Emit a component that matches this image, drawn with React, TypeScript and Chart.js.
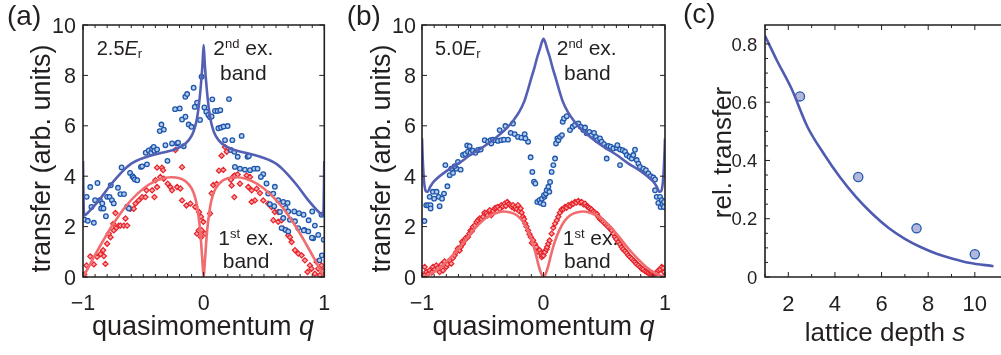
import React, { useEffect, useRef } from 'react';
import { Chart, registerables } from 'chart.js';

Chart.register(...registerables);

const FONT = '"Liberation Sans", Arial, Helvetica, sans-serif';
const INK = '#231f20';

// ---------------- tick labels ----------------
const qTicks = [-1, 0, 1];
const qTickLabels = ['\u22121', '0', '1'];
const transferTicks = [0, 2, 4, 6, 8, 10];
const transferTickLabels = ['0', '2', '4', '6', '8', '10'];
const depthTicks = [2, 4, 6, 8, 10];
const depthTickLabels = ['2', '4', '6', '8', '10'];
const relTicks = [0, 0.2, 0.4, 0.6, 0.8];
const relTickLabels = ['0', '0.2', '0.4', '0.6', '0.8'];

// ---------------- panel (a): 2.5 Er ----------------
const aCurveQ = [-1, -0.997, -0.993, -0.985, -0.96, -0.92, -0.85, -0.78, -0.7, -0.65, -0.6, -0.5, -0.37, -0.3, -0.23, -0.15, -0.1, -0.075, -0.055, -0.04, -0.025, -0.01, 0, 0.01, 0.025, 0.04, 0.055, 0.075, 0.1, 0.15, 0.23, 0.3, 0.37, 0.5, 0.6, 0.65, 0.7, 0.78, 0.85, 0.92, 0.96, 0.985, 0.993, 0.997, 1];
const aSecondBandTheory = [4.6, 3.5, 2.6, 2.45, 2.55, 2.75, 3.15, 3.6, 4.05, 4.3, 4.5, 4.72, 4.9, 4.98, 5.08, 5.3, 5.6, 5.9, 6.3, 6.8, 7.5, 8.4, 9.2, 8.4, 7.5, 6.8, 6.3, 5.9, 5.6, 5.3, 5.08, 4.98, 4.9, 4.72, 4.5, 4.3, 4.05, 3.6, 3.15, 2.75, 2.55, 2.45, 2.6, 3.5, 4.6];
const aRedCurveQ = [-1, -0.97, -0.92, -0.85, -0.75, -0.65, -0.55, -0.45, -0.35, -0.27, -0.2, -0.15, -0.1, -0.08, -0.06, -0.045, -0.03, -0.02, -0.01, 0, 0.01, 0.02, 0.03, 0.045, 0.06, 0.08, 0.1, 0.15, 0.2, 0.27, 0.35, 0.45, 0.55, 0.65, 0.75, 0.85, 0.92, 0.97, 1];
const aFirstBandTheory = [0.05, 0.25, 0.7, 1.3, 2.1, 2.78, 3.3, 3.68, 3.9, 3.96, 3.92, 3.8, 3.52, 3.3, 2.95, 2.5, 1.9, 1.3, 0.6, 0, 0.6, 1.3, 1.9, 2.5, 2.95, 3.3, 3.52, 3.8, 3.92, 3.96, 3.9, 3.68, 3.3, 2.78, 2.1, 1.3, 0.7, 0.25, 0.05];

const aSecondBandData: [number, number][] = [
  [-0.99, 2.28], [-0.97, 3.18], [-0.96, 2.23], [-0.94, 3.57], [-0.93, 2.78], [-0.91, 2.15], [-0.9, 3.05], [-0.88, 3.73], [-0.86, 3.05], [-0.85, 2.72], [-0.84, 2.92], [-0.83, 2.72], [-0.81, 2.41], [-0.8, 3.18], [-0.78, 3.18], [-0.77, 3.64], [-0.76, 3.05], [-0.745, 2.92], [-0.71, 3.54], [-0.69, 3.29], [-0.68, 4.35], [-0.66, 3.29], [-0.634, 2.79], [-0.62, 2.72], [-0.61, 4.13], [-0.59, 4.0], [-0.58, 3.94], [-0.57, 3.87], [-0.55, 3.84], [-0.52, 4.37], [-0.51, 4.39], [-0.48, 4.93], [-0.47, 4.47], [-0.455, 5.02], [-0.435, 4.93], [-0.427, 5.09], [-0.414, 5.16], [-0.408, 5.01], [-0.386, 5.06], [-0.364, 5.79], [-0.35, 6.05], [-0.33, 5.85], [-0.317, 5.23], [-0.3, 4.61], [-0.262, 5.3], [-0.237, 6.66], [-0.22, 5.3], [-0.212, 5.33], [-0.198, 6.69], [-0.179, 6.25], [-0.165, 5.19], [-0.152, 7.15], [-0.151, 6.36], [-0.137, 7.26], [-0.124, 6.05], [-0.101, 5.96], [-0.083, 7.51], [-0.074, 6.75], [-0.055, 6.92], [-0.03, 6.23], [-0.017, 7.95],
  [0.006, 6.73], [0.022, 6.56], [0.039, 6.43], [0.053, 6.34], [0.066, 6.37], [0.072, 7.05], [0.094, 6.59], [0.116, 6.59], [0.138, 6.62], [0.21, 7.06], [0.122, 5.9], [0.144, 5.93], [0.166, 5.97], [0.199, 5.99], [0.177, 5.43], [0.238, 5.43], [0.315, 5.6], [0.226, 5.04], [0.254, 4.97], [0.282, 4.77], [0.364, 4.77], [0.375, 4.8], [0.259, 4.37], [0.301, 4.3], [0.342, 4.26], [0.384, 4.24], [0.419, 4.3], [0.447, 4.3], [0.494, 4.08], [0.474, 3.97], [0.521, 3.71], [0.59, 3.58], [0.535, 3.31], [0.577, 3.31], [0.618, 3.05], [0.66, 2.98], [0.696, 2.94], [0.549, 2.89], [0.585, 2.81], [0.632, 2.58], [0.751, 2.6], [0.79, 2.53], [0.828, 2.47], [0.9, 2.6], [0.922, 2.04], [0.679, 2.74], [0.701, 2.6], [0.66, 2.34], [0.715, 2.27], [0.757, 2.21], [0.646, 1.94], [0.679, 1.87], [0.701, 1.81], [0.784, 1.94], [0.834, 1.87], [0.867, 1.81], [0.977, 2.47], [0.995, 1.48], [0.908, 1.54], [0.95, 1.67], [0.98, 0.86], [0.96, 0.66], [0.87, 2.25], [0.83, 1.85], [0.897, 1.56],
];
const aFirstBandData: [number, number][] = [
  [-0.99, 0.1], [-0.971, 0.46], [-0.91, 0.5], [-0.883, 0.8], [-0.94, 0.82], [-0.827, 0.83], [-0.855, 0.91], [-0.833, 1.06], [-0.814, 0.52], [-0.8, 1.32], [-0.772, 1.58], [-0.786, 1.72], [-0.745, 1.85], [-0.75, 2.11], [-0.723, 1.95], [-0.704, 2.04], [-0.69, 2.04], [-0.662, 2.04], [-0.634, 2.04], [-0.731, 2.54], [-0.648, 2.32], [-0.607, 2.71], [-0.579, 2.71], [-0.565, 2.91], [-0.538, 3.04], [-0.51, 3.17], [-0.482, 3.17], [-0.474, 3.44], [-0.427, 3.44], [-0.408, 3.17], [-0.386, 3.57], [-0.4, 3.84], [-0.359, 3.97], [-0.331, 3.9], [-0.298, 3.7], [-0.386, 4.34], [-0.345, 4.34], [-0.336, 4.24], [-0.276, 3.57], [-0.262, 3.44], [-0.22, 3.57], [-0.193, 3.51], [-0.179, 3.04], [-0.143, 2.84], [-0.11, 2.91], [-0.069, 2.78], [-0.179, 4.36], [-0.234, 5.04], [-0.055, 1.72], [-0.022, 1.58], [-0.041, 1.85], [-0.038, 2.58], [-0.022, 2.39], [-0.003, 2.19], [-0.017, 1.86],
  [0.011, 1.72], [0.053, 2.52], [0.066, 3.32], [0.08, 3.65], [0.108, 3.69], [0.127, 4.22], [0.163, 4.25], [0.149, 4.81], [0.177, 5.16], [0.191, 4.97], [0.226, 3.86], [0.246, 3.99], [0.259, 4.03], [0.282, 4.07], [0.301, 3.7], [0.254, 3.17], [0.232, 3.63], [0.357, 4.03], [0.384, 3.97], [0.37, 3.57], [0.398, 3.44], [0.439, 3.5], [0.467, 3.33], [0.425, 3.04], [0.398, 2.98], [0.494, 3.04], [0.535, 2.91], [0.563, 2.78], [0.59, 2.58], [0.618, 2.58], [0.577, 2.25], [0.618, 2.19], [0.646, 2.25], [0.66, 1.92], [0.687, 1.85], [0.701, 1.65], [0.715, 1.58], [0.729, 1.39], [0.757, 1.06], [0.784, 0.93], [0.812, 0.86], [0.839, 0.66], [0.881, 0.46], [0.894, 0.33], [0.922, 0.13], [0.95, 0.33], [0.977, 0.46], [0.991, 0.24], [0.963, 0.07], [0.936, 0.6], [0.861, 0.2],
];

// ---------------- panel (b): 5.0 Er ----------------
const bCurveQ = [-1, -0.995, -0.985, -0.97, -0.955, -0.93, -0.9, -0.8, -0.7, -0.6, -0.5, -0.4, -0.3, -0.25, -0.2, -0.16, -0.13, -0.1, -0.075, -0.05, -0.03, -0.015, 0, 0.015, 0.03, 0.05, 0.075, 0.1, 0.13, 0.16, 0.2, 0.25, 0.3, 0.4, 0.5, 0.6, 0.7, 0.8, 0.9, 0.93, 0.955, 0.97, 0.985, 0.995, 1];
const bSecondBandTheory = [5.5, 4.8, 3.9, 3.42, 3.38, 3.6, 3.8, 4.2, 4.5, 4.85, 5.15, 5.5, 5.92, 6.2, 6.55, 6.95, 7.4, 7.9, 8.3, 8.75, 9.05, 9.3, 9.45, 9.3, 9.05, 8.75, 8.3, 7.9, 7.4, 6.95, 6.55, 6.2, 5.92, 5.5, 5.15, 4.85, 4.5, 4.2, 3.8, 3.6, 3.38, 3.42, 3.9, 4.8, 5.5];
const bRedCurveQ = [-1, -0.97, -0.92, -0.85, -0.78, -0.7, -0.62, -0.55, -0.47, -0.4, -0.33, -0.28, -0.22, -0.17, -0.13, -0.1, -0.08, -0.06, -0.04, -0.02, 0, 0.02, 0.04, 0.06, 0.08, 0.1, 0.13, 0.17, 0.22, 0.28, 0.33, 0.4, 0.47, 0.55, 0.62, 0.7, 0.78, 0.85, 0.92, 0.97, 1];
const bFirstBandTheory = [0, 0.04, 0.15, 0.38, 0.7, 1.12, 1.6, 2.0, 2.35, 2.52, 2.6, 2.57, 2.45, 2.2, 1.85, 1.5, 1.2, 0.85, 0.45, 0.15, 0, 0.15, 0.45, 0.85, 1.2, 1.5, 1.85, 2.2, 2.45, 2.57, 2.6, 2.52, 2.35, 2.0, 1.6, 1.12, 0.7, 0.38, 0.15, 0.04, 0];

const bSecondBandData: [number, number][] = [
  [-0.98, 2.22], [-0.965, 2.85], [-0.95, 2.85], [-0.93, 2.85], [-0.929, 2.72], [-0.937, 3.18], [-0.91, 3.38], [-0.88, 3.38], [-0.9, 3.11], [-0.862, 3.18], [-0.835, 3.11], [-0.819, 3.31], [-0.855, 2.81], [-0.791, 3.6], [-0.808, 4.44], [-0.772, 4.04], [-0.745, 4.13], [-0.759, 4.3], [-0.717, 4.3], [-0.704, 4.57], [-0.682, 4.26], [-0.731, 4.4], [-0.663, 4.84], [-0.644, 4.88], [-0.622, 4.97], [-0.6, 4.93], [-0.581, 5.01], [-0.561, 4.93], [-0.539, 5.04], [-0.517, 5.06], [-0.628, 5.22], [-0.608, 5.19], [-0.484, 5.43], [-0.457, 5.37], [-0.435, 5.43], [-0.416, 5.45], [-0.397, 5.43], [-0.375, 5.4], [-0.43, 5.3], [-0.348, 5.43], [-0.325, 5.45], [-0.361, 5.83], [-0.314, 5.99], [-0.251, 6.09], [-0.292, 5.45], [-0.27, 5.72], [-0.237, 5.67], [-0.21, 5.56], [-0.182, 5.53], [-0.155, 5.67], [-0.127, 5.37], [-0.149, 5.5], [-0.106, 4.75], [-0.092, 4.17], [-0.078, 3.78], [-0.067, 3.71], [-0.051, 2.98], [-0.034, 3.05], [-0.023, 2.94], [-0.013, 3.11], [0, 2.89],
  [0.008, 3.18], [0.004, 3.25], [0.02, 3.31], [0.026, 3.44], [0.04, 3.58], [0.048, 3.38], [0.054, 3.77], [0.067, 4.17], [0.081, 4.44], [0.095, 4.7], [0.103, 5.3], [0.114, 5.5], [0.122, 5.43], [0.136, 5.56], [0.152, 5.63], [0.158, 6.16], [0.169, 6.29], [0.191, 6.38], [0.218, 5.83], [0.24, 5.96], [0.259, 6.03], [0.287, 6.09], [0.306, 5.96], [0.328, 5.83], [0.342, 5.93], [0.355, 5.7], [0.377, 5.76], [0.396, 5.63], [0.416, 5.72], [0.432, 5.56], [0.443, 5.43], [0.465, 5.5], [0.479, 5.37], [0.498, 5.27], [0.52, 5.17], [0.534, 5.2], [0.553, 5.17], [0.575, 5.1], [0.602, 5.13], [0.608, 5.23], [0.63, 5.06], [0.652, 5.03], [0.671, 4.97], [0.685, 4.84], [0.707, 4.77], [0.726, 4.7], [0.739, 4.84], [0.753, 5.05], [0.767, 4.64], [0.781, 4.5], [0.794, 4.37], [0.822, 4.3], [0.843, 4.24], [0.863, 4.11], [0.882, 4.0], [0.904, 3.95], [0.918, 3.87], [0.52, 4.7], [0.63, 4.44], [0.918, 3.44], [0.932, 3.18], [0.945, 2.94], [0.959, 3.18], [0.964, 2.78], [0.974, 3.05], [0.98, 2.89], [0.991, 2.78], [0.992, 2.98],
];
const bFirstBandData: [number, number][] = [
  [-0.995, 0.02], [-0.98, 0.07], [-0.978, 0.4], [-0.964, 0.2], [-0.95, 0.12], [-0.937, 0.26], [-0.92, 0.18], [-0.91, 0.4], [-0.895, 0.3], [-0.882, 0.46], [-0.87, 0.35], [-0.855, 0.2], [-0.84, 0.5], [-0.827, 0.26], [-0.815, 0.62], [-0.8, 0.4], [-0.79, 0.5], [-0.772, 0.66], [-0.759, 0.53], [-0.745, 0.75], [-0.731, 0.86], [-0.72, 0.98], [-0.704, 1.13], [-0.69, 1.05], [-0.682, 1.19], [-0.67, 1.4], [-0.663, 1.32], [-0.649, 1.46], [-0.64, 1.55], [-0.622, 1.59], [-0.61, 1.72], [-0.6, 1.85], [-0.59, 1.82], [-0.581, 1.99], [-0.565, 2.05], [-0.552, 2.18], [-0.54, 2.25], [-0.525, 2.32], [-0.51, 2.3], [-0.498, 2.39], [-0.485, 2.55], [-0.471, 2.52], [-0.46, 2.45], [-0.443, 2.65], [-0.43, 2.45], [-0.415, 2.62], [-0.402, 2.72], [-0.39, 2.75], [-0.375, 2.78], [-0.36, 2.7], [-0.347, 2.85], [-0.335, 2.8], [-0.32, 2.91], [-0.31, 2.82], [-0.298, 2.98], [-0.285, 2.9], [-0.27, 2.85], [-0.26, 2.78], [-0.251, 2.85], [-0.24, 2.72], [-0.232, 2.78], [-0.22, 2.7], [-0.21, 2.85], [-0.2, 2.62], [-0.188, 2.72], [-0.18, 2.55], [-0.169, 2.39], [-0.16, 2.3], [-0.15, 2.12], [-0.14, 2.0], [-0.127, 1.85], [-0.115, 1.7], [-0.105, 1.59], [-0.095, 1.35], [-0.086, 1.46], [-0.07, 1.3], [-0.059, 1.19], [-0.045, 1.0], [-0.031, 1.06], [-0.02, 0.95], [-0.015, 0.79], [-0.012, 0.86],
  [0, 0.85], [0.008, 0.99], [0.012, 0.99], [0.025, 1.1], [0.03, 1.19], [0.04, 1.32], [0.05, 1.45], [0.067, 1.72], [0.08, 1.95], [0.095, 2.12], [0.11, 2.25], [0.122, 2.39], [0.135, 2.55], [0.15, 2.68], [0.165, 2.7], [0.177, 2.78], [0.19, 2.75], [0.204, 2.85], [0.22, 2.82], [0.232, 2.91], [0.245, 2.9], [0.259, 2.98], [0.27, 2.95], [0.287, 3.02], [0.3, 2.95], [0.314, 2.98], [0.33, 2.88], [0.342, 2.91], [0.355, 2.82], [0.369, 2.78], [0.38, 2.72], [0.396, 2.68], [0.41, 2.6], [0.424, 2.55], [0.44, 2.5], [0.451, 2.39], [0.465, 2.3], [0.479, 2.25], [0.49, 2.2], [0.506, 2.12], [0.52, 2.05], [0.534, 1.99], [0.55, 1.9], [0.561, 1.85], [0.575, 1.72], [0.588, 1.59], [0.6, 1.5], [0.616, 1.39], [0.63, 1.3], [0.643, 1.19], [0.655, 1.1], [0.671, 1.03], [0.685, 0.95], [0.698, 0.86], [0.71, 0.8], [0.726, 0.73], [0.74, 0.65], [0.753, 0.6], [0.765, 0.52], [0.781, 0.46], [0.795, 0.4], [0.808, 0.33], [0.82, 0.3], [0.835, 0.24], [0.85, 0.2], [0.863, 0.16], [0.875, 0.12], [0.89, 0.11], [0.905, 0.1], [0.918, 0.13], [0.93, 0.15], [0.945, 0.26], [0.96, 0.3], [0.973, 0.4], [0.985, 0.35], [0.992, 0.2], [0.998, 0.05],
];

// ---------------- panel (c) ----------------
const depthFit = [1.0, 1.5, 2.14, 2.83, 3.52, 4.21, 4.91, 5.6, 6.29, 6.98, 7.67, 8.36, 9.05, 9.75, 10.8];
const relTransferFit = [0.828, 0.745, 0.646, 0.514, 0.423, 0.343, 0.274, 0.217, 0.169, 0.132, 0.103, 0.08, 0.063, 0.049, 0.037];
const depthData = [2.5, 5, 7.5, 10];
const relTransferData = [0.62, 0.343, 0.167, 0.078];

// ---------------- helpers ----------------
const xy = (xs: number[], ys: number[]) => xs.map((x, i) => ({ x, y: ys[i] }));
const pairs = (p: [number, number][]) => p.map(([x, y]) => ({ x, y }));

interface Run { t: string; size: number; italic?: boolean; dy?: number }
interface TextItem { x: number; y: number; runs: Run[]; align?: 'left' | 'center'; rotate?: boolean }

const fontOf = (r: Run) => `${r.italic ? 'italic ' : ''}${r.size}px ${FONT}`;

function drawItem(ctx: CanvasRenderingContext2D, it: TextItem) {
  ctx.save();
  ctx.fillStyle = INK;
  ctx.textBaseline = 'alphabetic';
  ctx.textAlign = 'left';
  let ox = it.x, oy = it.y;
  if (it.rotate) {
    ctx.translate(it.x, it.y);
    ctx.rotate(-Math.PI / 2);
    ox = 0; oy = 0;
  }
  let total = 0;
  for (const r of it.runs) { ctx.font = fontOf(r); total += ctx.measureText(r.t).width; }
  let cx = it.align === 'center' ? ox - total / 2 : ox;
  for (const r of it.runs) {
    ctx.font = fontOf(r);
    ctx.fillText(r.t, cx, oy + (r.dy || 0));
    cx += ctx.measureText(r.t).width;
  }
  ctx.restore();
}

const textPlugin = (items: TextItem[]) => ({
  id: 'texts',
  afterDraw(chart: any) { for (const it of items) drawItem(chart.ctx, it); },
});

interface FrameCfg {
  xMajor: number[]; xLabels: string[]; xMinor: number[];
  yMajor: number[]; yLabels: string[]; yMinor: number[];
  labelGap: number; xTickSize: number; yTickSize: number; xLabelDrop: number; openRight?: boolean;
}

const framePlugin = (cfg: FrameCfg) => ({
  id: 'frame',
  afterDatasetsDraw(chart: any) {
    const { ctx, chartArea: a, scales } = chart;
    const xs = scales.x, ys = scales.y;
    ctx.save();
    ctx.strokeStyle = INK;
    ctx.lineWidth = 1;
    ctx.beginPath();
    const seg = (x1: number, y1: number, x2: number, y2: number) => { ctx.moveTo(x1, y1); ctx.lineTo(x2, y2); };
    const xt = (vals: number[], len: number) => {
      for (const v of vals) {
        const px = xs.getPixelForValue(v);
        if (px < a.left - 0.5 || px > a.right + 0.5) continue;
        seg(px, a.bottom, px, a.bottom - len);
        seg(px, a.top, px, a.top + len);
      }
    };
    const yt = (vals: number[], len: number) => {
      for (const v of vals) {
        const py = ys.getPixelForValue(v);
        if (py < a.top - 0.5 || py > a.bottom + 0.5) continue;
        seg(a.left, py, a.left + len, py);
        if (!cfg.openRight) seg(a.right, py, a.right - len, py);
      }
    };
    xt(cfg.xMajor, 5); xt(cfg.xMinor, 3);
    yt(cfg.yMajor, 5); yt(cfg.yMinor, 3);
    ctx.stroke();
    ctx.lineWidth = 1.6;
    ctx.beginPath();
    if (cfg.openRight) {
      ctx.moveTo(chart.width, a.top); ctx.lineTo(a.left, a.top); ctx.lineTo(a.left, a.bottom); ctx.lineTo(chart.width, a.bottom);
    } else {
      ctx.rect(a.left, a.top, a.right - a.left, a.bottom - a.top);
    }
    ctx.stroke();

    // tick labels
    ctx.fillStyle = INK;
    ctx.textBaseline = 'alphabetic';
    ctx.font = `${cfg.xTickSize}px ${FONT}`;
    ctx.textAlign = 'center';
    cfg.xMajor.forEach((v, i) => {
      ctx.fillText(cfg.xLabels[i], xs.getPixelForValue(v), a.bottom + cfg.xLabelDrop);
    });
    ctx.font = `${cfg.yTickSize}px ${FONT}`;
    const capHalf = cfg.yTickSize * 0.716 / 2;
    ctx.textAlign = 'right';
    cfg.yMajor.forEach((v, i) => {
      ctx.fillText(cfg.yLabels[i], a.left - cfg.labelGap, ys.getPixelForValue(v) + capHalf);
    });
    ctx.restore();
  },
});

function axis(min: number, max: number, isX: boolean, size: number) {
  return {
    type: 'linear',
    min, max,
    afterFit: (s: any) => { if (isX) s.height = size; else s.width = size; },
    grid: { display: false, drawTicks: false },
    border: { display: false },
    ticks: { display: false },
  };
}

const BLUE_LINE = '#5360b3';
const RED_LINE = '#f16c6e';

function qPanel(blueQ: number[], blueV: number[], redQ: number[], redV: number[], blueD: [number, number][], redD: [number, number][], yAxisW: number, padRight: number, labelGap: number, texts: TextItem[]): any {
  const minor: number[] = [];
  for (let i = -9; i <= 9; i++) if (i !== 0) minor.push(i / 10);
  return {
    type: 'scatter',
    data: {
      datasets: [
        { data: xy(blueQ, blueV), showLine: true, borderColor: BLUE_LINE, borderWidth: 2.6, pointRadius: 0, cubicInterpolationMode: 'monotone' },
        { data: xy(redQ, redV), showLine: true, borderColor: RED_LINE, borderWidth: 2.6, pointRadius: 0, cubicInterpolationMode: 'monotone' },
        { data: pairs(blueD), pointStyle: 'circle', pointRadius: 2.3, borderWidth: 1.3, borderColor: '#1d57ad', backgroundColor: '#b9cdea' },
        { data: pairs(redD), pointStyle: 'rectRot', pointRadius: 2.6, borderWidth: 1.2, borderColor: '#e8232b', backgroundColor: '#f6a3a3' },
      ],
    },
    options: {
      responsive: false,
      animation: false,
      events: [],
      layout: { padding: { top: 25, right: padRight, left: 0, bottom: 0 } },
      plugins: { legend: { display: false }, tooltip: { enabled: false } },
      scales: {
        x: axis(-1, 1, true, 78),
        y: axis(0, 10, false, yAxisW),
      },
    },
    plugins: [
      framePlugin({ xMajor: qTicks, xLabels: qTickLabels, xMinor: minor, yMajor: transferTicks, yLabels: transferTickLabels, yMinor: [], labelGap, xTickSize: 21.5, yTickSize: 21.5, xLabelDrop: 33 }),
      textPlugin(texts),
    ],
  };
}

const textsA: TextItem[] = [
  { x: 7, y: 25, runs: [{ t: '(a)', size: 28 }] },
  { x: 96.7, y: 55.3, runs: [{ t: '2.5', size: 20 }, { t: 'E', size: 20, italic: true }, { t: 'r', size: 13, dy: 3 }] },
  { x: 213.3, y: 55.3, runs: [{ t: '2', size: 21 }, { t: 'nd', size: 13, dy: -7.3 }, { t: ' ex.', size: 21 }] },
  { x: 220, y: 79.7, runs: [{ t: 'band', size: 21 }] },
  { x: 218.3, y: 245, runs: [{ t: '1', size: 21 }, { t: 'st', size: 13, dy: -7.3 }, { t: ' ex.', size: 21 }] },
  { x: 222.7, y: 268.3, runs: [{ t: 'band', size: 21 }] },
  { x: 50, y: 158.5, rotate: true, align: 'center', runs: [{ t: 'transfer (arb. units)', size: 27 }] },
  { x: 203, y: 335, align: 'center', runs: [{ t: 'quasimomentum ', size: 27 }, { t: 'q', size: 27, italic: true }] },
];
const textsB: TextItem[] = [
  { x: 6.7, y: 25, runs: [{ t: '(b)', size: 28 }] },
  { x: 95, y: 55.3, runs: [{ t: '5.0', size: 20 }, { t: 'E', size: 20, italic: true }, { t: 'r', size: 13, dy: 3 }] },
  { x: 216.7, y: 55.3, runs: [{ t: '2', size: 21 }, { t: 'nd', size: 13, dy: -7.3 }, { t: ' ex.', size: 21 }] },
  { x: 224, y: 79.7, runs: [{ t: 'band', size: 21 }] },
  { x: 222.7, y: 245, runs: [{ t: '1', size: 21 }, { t: 'st', size: 13, dy: -7.3 }, { t: ' ex.', size: 21 }] },
  { x: 224, y: 268.3, runs: [{ t: 'band', size: 21 }] },
  { x: 50, y: 158.5, rotate: true, align: 'center', runs: [{ t: 'transfer (arb. units)', size: 27 }] },
  { x: 203.5, y: 335, align: 'center', runs: [{ t: 'quasimomentum ', size: 27 }, { t: 'q', size: 27, italic: true }] },
];
const textsC: TextItem[] = [
  { x: 3, y: 23, runs: [{ t: '(c)', size: 28 }] },
  { x: 51, y: 152.5, rotate: true, align: 'center', runs: [{ t: 'rel. transfer', size: 26 }] },
  { x: 205, y: 340.5, align: 'center', runs: [{ t: 'lattice depth ', size: 26 }, { t: 's', size: 26, italic: true }] },
];

function cPanel(): any {
  const xMinor: number[] = [];
  for (let i = 1; i <= 11; i++) if (i % 2 === 1) xMinor.push(i);
  const yMinor: number[] = [];
  for (let i = 1; i <= 17; i++) if (i % 4 !== 0) yMinor.push(i * 0.05);
  return {
    type: 'scatter',
    data: {
      datasets: [
        { data: xy(depthFit, relTransferFit), showLine: true, borderColor: '#4f5bb0', borderWidth: 2.6, pointRadius: 0, cubicInterpolationMode: 'monotone' },
        { data: xy(depthData, relTransferData), pointStyle: 'circle', pointRadius: 4.6, borderWidth: 1.3, borderColor: '#2159b0', backgroundColor: '#b4b7d9' },
      ],
    },
    options: {
      responsive: false,
      animation: false,
      events: [],
      layout: { padding: { top: 25, right: 0, left: 0, bottom: 0 } },
      plugins: { legend: { display: false }, tooltip: { enabled: false } },
      scales: {
        x: axis(1, 10.87, true, 78),
        y: axis(0, 0.865, false, 85),
      },
    },
    plugins: [
      framePlugin({ xMajor: depthTicks, xLabels: depthTickLabels, xMinor, yMajor: relTicks, yLabels: relTickLabels, yMinor, labelGap: 7.7, xTickSize: 22, yTickSize: 18.5, xLabelDrop: 34, openRight: true }),
      textPlugin(textsC),
    ],
  };
}

export default function App() {
  const refA = useRef<HTMLCanvasElement>(null);
  const refB = useRef<HTMLCanvasElement>(null);
  const refC = useRef<HTMLCanvasElement>(null);

  useEffect(() => {
    const charts = [
      new Chart(refA.current as HTMLCanvasElement, qPanel(aCurveQ, aSecondBandTheory, aRedCurveQ, aFirstBandTheory, aSecondBandData, aFirstBandData, 83, 15.7, 7, textsA)),
      new Chart(refB.current as HTMLCanvasElement, qPanel(bCurveQ, bSecondBandTheory, bRedCurveQ, bFirstBandTheory, bSecondBandData, bFirstBandData, 82, 15, 6, textsB)),
      new Chart(refC.current as HTMLCanvasElement, cPanel()),
    ];
    return () => charts.forEach((c) => c.destroy());
  }, []);

  const cs = (left: number, w: number): React.CSSProperties => ({ position: 'absolute', left, top: 0, width: w, height: 355 });
  return (
    <div style={{ position: 'fixed', left: 0, top: 0, width: 1001, height: 355, background: '#fff', overflow: 'hidden' }}>
      <canvas ref={refA} width={340} height={355} style={cs(0, 340)} />
      <canvas ref={refB} width={340} height={355} style={cs(340, 340)} />
      <canvas ref={refC} width={321} height={355} style={cs(680, 321)} />
    </div>
  );
}
